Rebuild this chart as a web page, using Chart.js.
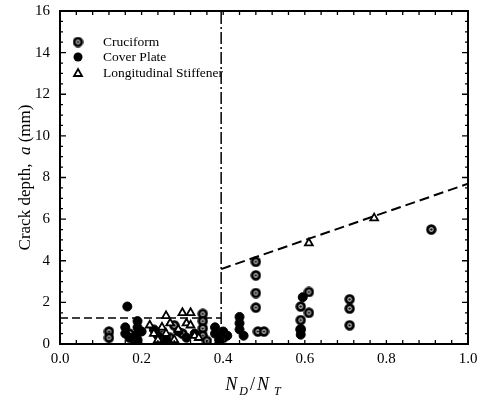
<!DOCTYPE html>
<html>
<head>
<meta charset="utf-8">
<script src="https://cdn.jsdelivr.net/npm/chart.js@4.4.0/dist/chart.umd.min.js"></script>
<style>
  body { margin: 0; background: #fff; }
  #wrap { width: 490px; height: 414px; }
</style>
</head>
<body>
<div id="wrap"><canvas id="myChart"></canvas></div>
<script>
// Data: [N_D/N_T, crack depth a (mm)]
const cruciform = [
  [0.12, 0.6], [0.12, 0.3], [0.17, 0.5], [0.18, 0.25],
  [0.25, 0.6], [0.27, 0.3], [0.28, 0.9], [0.30, 0.5],
  [0.35, 1.45], [0.35, 1.1], [0.35, 0.75], [0.35, 0.4], [0.36, 0.15],
  [0.40, 0.3],
  [0.48, 3.95], [0.48, 3.3], [0.48, 2.45], [0.48, 1.75], [0.485, 0.6], [0.50, 0.6],
  [0.59, 1.8], [0.59, 1.15], [0.59, 0.7], [0.61, 2.5], [0.61, 1.5],
  [0.71, 2.15], [0.71, 1.7], [0.71, 0.9],
  [0.91, 5.5]
];
const coverPlate = [
  [0.165, 1.8], [0.16, 0.8], [0.16, 0.5], [0.17, 0.3],
  [0.19, 1.1], [0.19, 0.8], [0.19, 0.5], [0.19, 0.2], [0.19, 0.0], [0.20, 0.6],
  [0.23, 0.7], [0.24, 0.4], [0.26, 0.2], [0.29, 0.6], [0.31, 0.3], [0.33, 0.5],
  [0.38, 0.8], [0.38, 0.5], [0.39, 0.2], [0.39, 0.0], [0.40, 0.6], [0.41, 0.4],
  [0.44, 1.3], [0.44, 1.0], [0.44, 0.7], [0.45, 0.4],
  [0.595, 2.25], [0.59, 0.7], [0.59, 0.45]
];
const longStiffener = [
  [0.22, 0.9], [0.23, 0.5], [0.24, 0.2], [0.25, 0.8], [0.26, 1.35], [0.26, 0.5],
  [0.27, 1.0], [0.28, 0.2], [0.29, 0.7], [0.30, 1.5], [0.31, 1.0], [0.32, 1.5],
  [0.32, 0.9], [0.33, 0.4], [0.34, 0.3],
  [0.61, 4.85], [0.77, 6.05]
];
// Limit lines
const vertLine = [[0.395, 0], [0.395, 16]];
const lowLine = [[0, 1.25], [0.395, 1.25]];
const slopeLine = [[0.395, 3.6], [1.0, 7.7]];

const xTicks = [0.0, 0.2, 0.4, 0.6, 0.8, 1.0];
const yTicks = [0, 2, 4, 6, 8, 10, 12, 14, 16];

const toXY = arr => arr.map(p => ({x: p[0], y: p[1]}));
const serif = '"Liberation Serif", "DejaVu Serif", serif';

// Cruciform marker: bold ring with a dot
function makeCruciform() {
  const c = document.createElement('canvas');
  c.width = 11; c.height = 11;
  const g = c.getContext('2d');
  g.fillStyle = '#fff';
  g.strokeStyle = '#000';
  g.lineWidth = 3;
  g.beginPath(); g.arc(5.5, 5.5, 3.7, 0, Math.PI * 2); g.fill(); g.stroke();
  g.fillStyle = '#000';
  g.beginPath(); g.arc(5.5, 5.5, 1.3, 0, Math.PI * 2); g.fill();
  return c;
}
const cruciformImg = makeCruciform();

// Box with inward ticks on all sides, legend and axis titles
const framePlugin = {
  id: 'frame',
  afterDraw(chart) {
    const {ctx, chartArea: a, scales} = chart;
    const xs = scales.x, ys = scales.y;
    ctx.save();
    ctx.strokeStyle = '#000';
    ctx.lineWidth = 2;
    ctx.strokeRect(a.left, a.top, a.right - a.left, a.bottom - a.top);
    ctx.lineWidth = 1.3;
    ctx.beginPath();
    for (let v = 0; v <= 1.0001; v += 0.04) {
      const px = xs.getPixelForValue(v);
      const len = 4;
      ctx.moveTo(px, a.bottom); ctx.lineTo(px, a.bottom - len);
      ctx.moveTo(px, a.top); ctx.lineTo(px, a.top + len);
    }
    for (let v = 0; v <= 16.001; v += 0.5) {
      const py = ys.getPixelForValue(v);
      const len = (Math.abs(v % 2) < 0.01) ? 6 : 3;
      ctx.moveTo(a.left, py); ctx.lineTo(a.left + len, py);
      ctx.moveTo(a.right, py); ctx.lineTo(a.right - len, py);
    }
    ctx.stroke();

    // legend
    const lx = a.left + 18;
    const tx = a.left + 43;
    const rows = [a.top + 31, a.top + 46, a.top + 62];
    ctx.fillStyle = '#000';
    ctx.font = '13.5px ' + serif;
    ctx.textBaseline = 'middle';
    ctx.textAlign = 'left';
    ctx.drawImage(cruciformImg, lx - 5.5, rows[0] - 5.5);
    ctx.fillText('Cruciform', tx, rows[0]);
    ctx.beginPath(); ctx.arc(lx, rows[1], 4.5, 0, Math.PI * 2); ctx.fill();
    ctx.fillText('Cover Plate', tx, rows[1]);
    ctx.lineWidth = 1.8;
    ctx.beginPath();
    ctx.moveTo(lx, rows[2] - 4); ctx.lineTo(lx + 4, rows[2] + 3); ctx.lineTo(lx - 4, rows[2] + 3);
    ctx.closePath(); ctx.stroke();
    ctx.fillText('Longitudinal Stiffener', tx, rows[2]);

    // y title
    ctx.save();
    ctx.translate(26, (a.top + a.bottom) / 2);
    ctx.rotate(-Math.PI / 2);
    ctx.textAlign = 'left';
    ctx.textBaseline = 'middle';
    const parts = [['Crack depth,  ', '17px ' + serif], ['a', 'italic 17px ' + serif], [' (mm)', '17px ' + serif]];
    let w = 0;
    parts.forEach(p => { ctx.font = p[1]; w += ctx.measureText(p[0]).width; });
    let cx = -w / 2;
    parts.forEach(p => { ctx.font = p[1]; ctx.fillText(p[0], cx, 0); cx += ctx.measureText(p[0]).width; });
    ctx.restore();

    // x title N_D/N_T
    const xt = [['N', 'italic 18px ' + serif, 0], ['D', 'italic 12px ' + serif, 5], ['/', '18px ' + serif, 0],
                ['N', 'italic 18px ' + serif, 0], [' T', 'italic 12px ' + serif, 5]];
    w = 0;
    xt.forEach(p => { ctx.font = p[1]; w += ctx.measureText(p[0]).width + 2; });
    cx = (a.left + a.right) / 2 - w / 2 - 10;
    ctx.textAlign = 'left';
    ctx.textBaseline = 'alphabetic';
    xt.forEach(p => { ctx.font = p[1]; ctx.fillText(p[0], cx, 390 + p[2]); cx += ctx.measureText(p[0]).width + 2; });
    ctx.restore();
  }
};

const ctx = document.getElementById('myChart').getContext('2d');

const myChart = new Chart(ctx, {
  type: 'scatter',
  data: {
    datasets: [
      {
        label: 'vertical', data: toXY(vertLine), showLine: true, pointRadius: 0,
        borderColor: '#000', borderWidth: 1.5, borderDash: [12, 3, 2, 3]
      },
      {
        label: 'low', data: toXY(lowLine), showLine: true, pointRadius: 0,
        borderColor: '#000', borderWidth: 1.5, borderDash: [8, 4]
      },
      {
        label: 'slope', data: toXY(slopeLine), showLine: true, pointRadius: 0,
        borderColor: '#000', borderWidth: 2, borderDash: [10, 5]
      },
      {
        label: 'Longitudinal Stiffener', data: toXY(longStiffener),
        pointStyle: 'triangle', pointRadius: 4.5, backgroundColor: '#fff',
        borderColor: '#000', borderWidth: 1.8
      },
      {
        label: 'Cover Plate', data: toXY(coverPlate),
        pointStyle: 'circle', pointRadius: 4.5, backgroundColor: '#000',
        borderColor: '#000', borderWidth: 1
      },
      {
        label: 'Cruciform', data: toXY(cruciform),
        pointStyle: cruciformImg
      }
    ]
  },
  options: {
    responsive: true,
    maintainAspectRatio: false,
    animation: false,
    layout: { padding: { left: 0, right: 22, top: 11, bottom: 0 } },
    plugins: { legend: { display: false }, tooltip: { enabled: false } },
    scales: {
      x: {
        type: 'linear', min: 0, max: 1,
        afterFit: s => { s.height = 70; s.paddingLeft = 0; s.paddingRight = 0; },
        afterBuildTicks: s => { s.ticks = xTicks.map(v => ({value: v})); },
        grid: { display: false, drawTicks: false },
        border: { display: false },
        ticks: {
          color: '#000', font: { family: serif, size: 15 }, padding: 6,
          callback: v => v.toFixed(1)
        }
      },
      y: {
        type: 'linear', min: 0, max: 16,
        afterFit: s => { s.width = 60; s.paddingTop = 0; s.paddingBottom = 0; },
        afterBuildTicks: s => { s.ticks = yTicks.map(v => ({value: v})); },
        grid: { display: false, drawTicks: false },
        border: { display: false },
        ticks: { color: '#000', font: { family: serif, size: 15 }, padding: 10 }
      }
    }
  },
  plugins: [framePlugin]
});
</script>
</body>
</html>
